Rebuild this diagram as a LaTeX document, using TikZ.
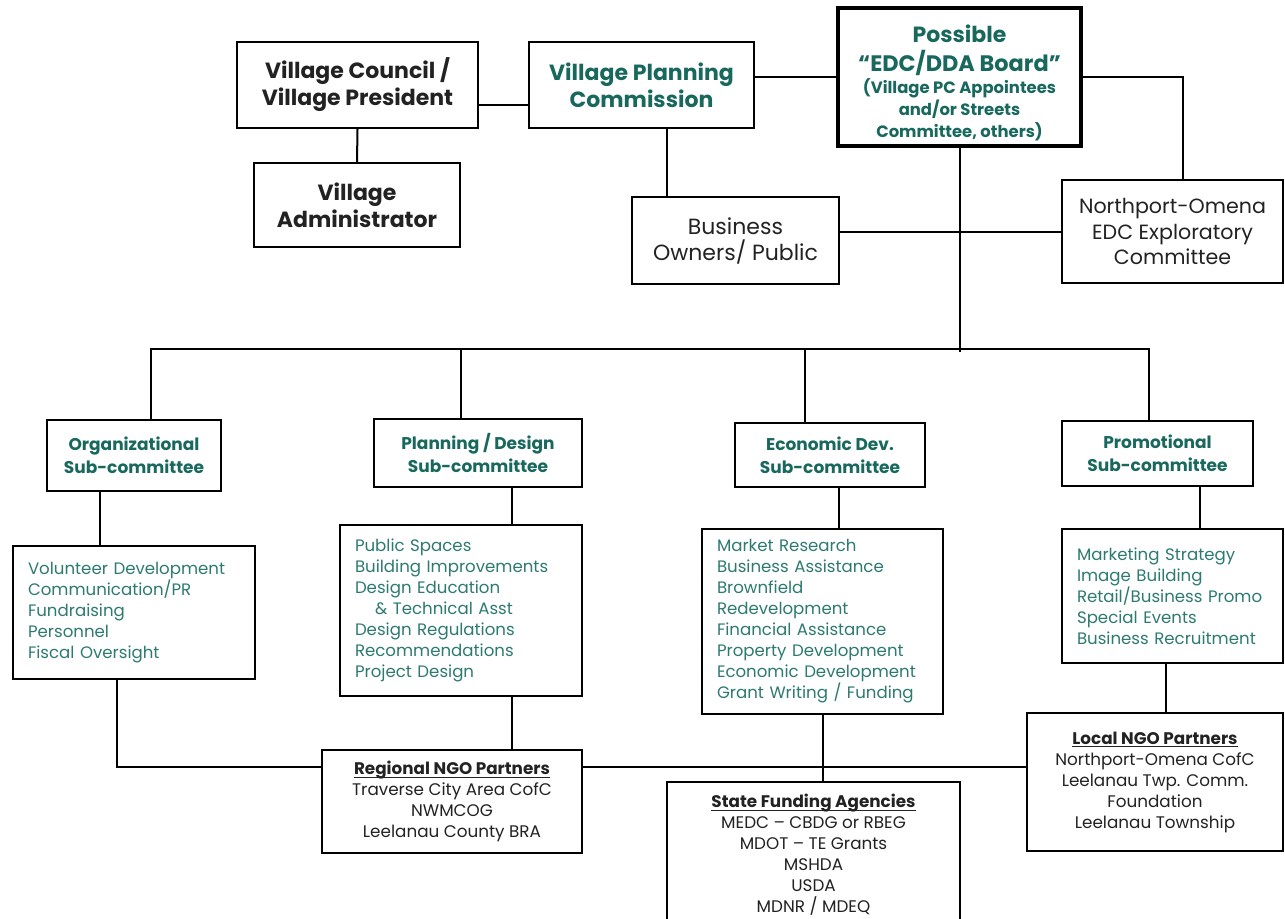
\documentclass[tikz,border=0pt]{standalone}
\usepackage{fontspec}
\setmainfont{Poppins}
\definecolor{boardteal}{RGB}{24,104,94}
\definecolor{listteal}{RGB}{44,122,112}
\definecolor{inkgray}{RGB}{34,34,34}
\newcommand{\ngohead}[1]{\textbf{\underline{\smash{#1}}\vphantom{#1}}}

\begin{document}
\begin{tikzpicture}[x=0.5pt,y=-0.5pt,
    box/.style={draw=black, line width=1.2pt, inner sep=0pt, align=center},
    headbox/.style={box, font=\bfseries\fontsize{11}{13.5}\selectfont, text=inkgray},
    subbox/.style={box, font=\bfseries\fontsize{8.5}{11.5}\selectfont, text=boardteal},
    plainbox/.style={box, font=\fontsize{10.3}{12.8}\selectfont, text=inkgray},
    listbox/.style={box, align=left, inner xsep=7.5pt, font=\fontsize{8.3}{10.5}\selectfont, text=listteal},
    partnerbox/.style={box, font=\fontsize{8.4}{10.5}\selectfont, text=inkgray},
    link/.style={draw=black, line width=1pt}]

    \useasboundingbox (0,0) rectangle (1285,918);

    % Top row: council, planning commission, board
    \node[headbox, minimum width=120.5pt, minimum height=43pt]
      (council) at (357.5,85) {Village Council /\\Village President};
    \node[headbox, text=boardteal, minimum width=112.5pt, minimum height=43pt]
      (vpc) at (641.5,85) {Village Planning\\Commission};
    \node[box, line width=2pt, text=boardteal, font=\bfseries\fontsize{8.2}{11}\selectfont,
      minimum width=121.5pt, minimum height=69pt]
      (edc)
      at
      (959.5,77)
      {{\fontsize{11}{14.5}\selectfont\rule{0pt}{15pt}Possible}\\[3.5pt]
       {\fontsize{11.2}{14.5}\selectfont “EDC/DDA Board”}\\
       (Village PC Appointees\\
       and/or Streets\\
       Committee, others)};

    % Second row
    \node[headbox, minimum width=103pt, minimum height=42pt]
      (admin) at (357,205) {Village\\Administrator};
    \node[plainbox, font=\fontsize{11}{13}\selectfont, minimum width=103.5pt, minimum height=43.5pt]
      (business) at (735.5,240.5) {Business\\Owners/ Public};
    \node[plainbox, minimum width=110.5pt, minimum height=51.5pt]
      (explor) at (1172.5,231.5) {Northport-Omena\\EDC Exploratory\\Committee};

    % Sub-committees
    \node[subbox, minimum width=87pt, minimum height=35.5pt]
      (orgsub) at (134,455.5) {Organizational\\Sub-committee};
    \node[subbox, minimum width=104pt, minimum height=34pt]
      (plansub) at (478,453) {Planning / Design\\Sub-committee};
    \node[subbox, minimum width=95pt, minimum height=32pt]
      (econsub) at (830,455) {Economic Dev.\\Sub-committee};
    \node[subbox, minimum width=95.5pt, minimum height=32.5pt]
      (promosub) at (1157.5,453.5) {Promotional\\Sub-committee};

    % Task lists
    \node[listbox, text width=106pt, minimum height=66.5pt]
      (orglist) at (134,612.5)
      {Volunteer Development\\ Communication/PR\\ Fundraising\\ Personnel\\ Fiscal Oversight};
    \node[listbox, text width=106pt, minimum height=85.5pt]
      (planlist) at (461,610.5)
      {Public Spaces\\ Building Improvements\\ Design Education\\
       \hspace*{10pt}\& Technical Asst\\ Design Regulations\\ Recommendations\\ Project Design};
    \node[listbox, text width=105.5pt, minimum height=92.5pt]
      (econlist) at (822.5,621.5)
      {Market Research\\ Business Assistance\\ Brownfield\\ Redevelopment\\
       Financial Assistance\\ Property Development\\ Economic Development\\ Grant Writing / Funding};
    \node[listbox, text width=95.5pt, minimum height=67pt]
      (promolist) at (1172.5,596)
      {Marketing Strategy\\ Image Building\\ Retail/Business Promo\\ Special Events\\ Business Recruitment};

    % Partners and funding
    \node[partnerbox, minimum width=130pt, minimum height=51.5pt]
      (regional) at (452,801.5)
      {\ngohead{Regional NGO Partners}\\ Traverse City Area CofC\\ NWMCOG\\ Leelanau County BRA};
    \node[partnerbox, minimum width=146.5pt, minimum height=73pt]
      (state) at (813.5,855)
      {\ngohead{State Funding Agencies}\\ MEDC -- CBDG or RBEG\\ MDOT -- TE Grants\\ MSHDA\\ USDA\\ MDNR / MDEQ};
    \node[partnerbox, minimum width=128pt, minimum height=69pt]
      (local) at (1155,782)
      {\ngohead{Local NGO Partners}\\ Northport-Omena CofC\\ Leelanau Twp. Comm.\\ Foundation\\ Leelanau Township};

    % Connectors, top part
    \draw[link] ([yshift=-10pt]council.east) -- ([yshift=-10pt]vpc.west);
    \draw[link] (edc.west) -- (edc.west -| vpc.east);
    \draw[link] (council.south) -- (admin.north);
    \draw[link] ([xshift=-34.25pt]business.north) coordinate (bp) -- (bp |- vpc.south);
    \draw[link] (edc.east) -| ([xshift=5.25pt]explor.north);
    \draw[link] (explor.west) -- (explor.west -| business.east);

    % Bus to the sub-committees
    \coordinate (bus) at (959.5,349);
    \draw[link] (edc.south) -- ([yshift=-1.5pt]bus);
    \draw[link] ([xshift=8.5pt]orgsub.north) |- (bus) -| ([xshift=-4.25pt]promosub.north);
    \draw[link] ([xshift=-8.5pt]plansub.north) coordinate (pd) -- (pd |- bus);
    \draw[link] ([xshift=-12.5pt]econsub.north) coordinate (ed) -- (ed |- bus);

    % Sub-committees to lists
    \draw[link] ([xshift=-17pt]orgsub.south) -- ([xshift=-17pt]orglist.north);
    \draw[link] ([xshift=25.5pt]planlist.north) coordinate (pn) -- (pn |- plansub.south);
    \draw[link] ([xshift=8.25pt]econlist.north) coordinate (en) -- (en |- econsub.south);
    \draw[link] ([xshift=13.75pt]promolist.north) coordinate (qn) -- (qn |- promosub.south);

    % Lists to partners
    \draw[link] ([xshift=-8.5pt]orglist.south) |- ([yshift=17.25pt]regional.west);
    \draw[link] ([yshift=17.25pt]regional.east) -- ([yshift=7.5pt]local.west);
    \draw[link] ([xshift=25.5pt]planlist.south) coordinate (ps) -- (ps |- regional.north);
    \draw[link] (econlist.south) -- (econlist.south |- state.north);
    \draw[link] ([xshift=-3.25pt]promolist.south) coordinate (qs) -- (qs |- local.north);
  \end{tikzpicture}
\end{document}
